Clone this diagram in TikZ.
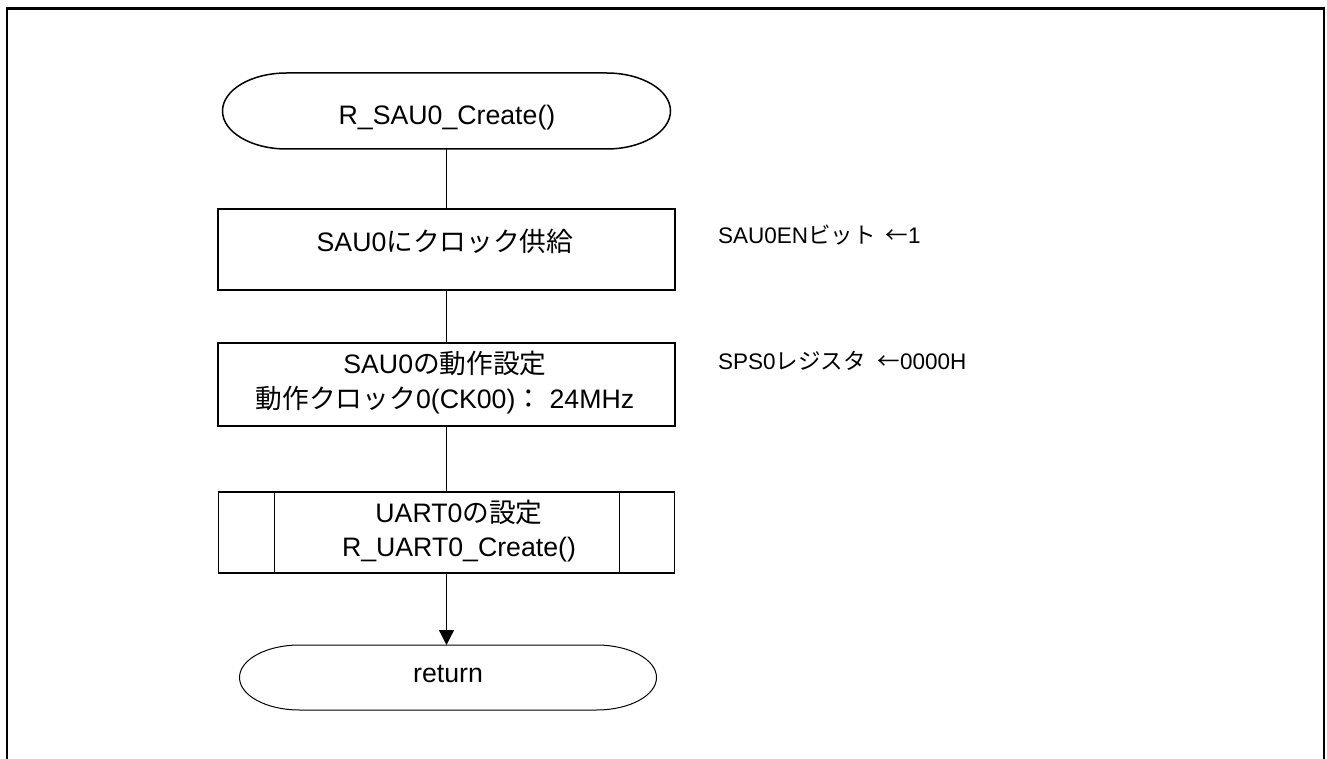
\documentclass[tikz,border=0pt]{standalone}
\usepackage{fontspec}
\setmainfont{Liberation Sans}
\newfontfamily\cjk{Noto Sans CJK JP}
\usetikzlibrary{arrows.meta}
\tikzset{
  shapebox/.style={draw=none, inner sep=0pt, outer sep=0pt},
  procbox/.style={draw, line width=1.4pt, inner sep=0pt, outer sep=0pt},
  txt/.style={inner sep=0pt, outer sep=0pt, anchor=base, font=\fontsize{26.7}{35}\selectfont},
  note/.style={inner sep=0pt, outer sep=0pt, anchor=base west, font=\fontsize{22.5}{27}\selectfont},
  flow/.style={line width=1.3pt},
}
\begin{document}
\begin{tikzpicture}[x=1pt,y=1pt]
\useasboundingbox (0,0) rectangle (1327,758);
\clip (0,0) rectangle (1327,758);
% outer frame (bottom edge lies below the picture)
\draw[line width=2.2pt] (7,-30) rectangle (1324,749.5);

% start terminal
\node[shapebox, minimum width=448pt, minimum height=76pt] (start) at (446.5,647) {};
\draw[line width=1.5pt] ([xshift=64pt]start.north west) -- ([xshift=-64pt]start.north east)
  arc[start angle=90, end angle=-90, x radius=64pt, y radius=38pt]
  -- ([xshift=64pt]start.south west)
  arc[start angle=270, end angle=90, x radius=64pt, y radius=38pt] -- cycle;
\node[txt] (starttext) at (447,633) {R\_SAU0\_Create()};

% process 1
\node[procbox, minimum width=457pt, minimum height=81pt] (box1) at (446.5,508.5) {};
\node[txt] (box1text) at (445,506) {SAU0{\cjk にクロック供給}};

% process 2
\node[procbox, minimum width=457pt, minimum height=83pt] (box2) at (446.5,373.5) {};
\node[txt] (box2a) at (445,384) {SAU0{\cjk の動作設定}};
\node[txt] (box2b) at (445,349) {{\cjk 動作クロック}0(CK00){\cjk ：} 24MHz};

% predefined process
\node[procbox, line width=1.7pt, minimum width=456pt, minimum height=81pt] (sub) at (446.5,225.5) {};
\draw[line width=1.7pt] ([xshift=56pt]sub.north west) -- ([xshift=56pt]sub.south west);
\draw[line width=1.7pt] ([xshift=-55pt]sub.north east) -- ([xshift=-55pt]sub.south east);
\node[txt] (suba) at (459,236) {UART0{\cjk の設定}};
\node[txt] (subb) at (459,202) {R\_UART0\_Create()};

% return terminal
\node[shapebox, minimum width=417pt, minimum height=65pt] (ret) at (448,80.5) {};
\draw[line width=1pt] ([xshift=60pt]ret.north west) -- ([xshift=-60pt]ret.north east)
  arc[start angle=90, end angle=-90, x radius=60pt, y radius=32.5pt]
  -- ([xshift=60pt]ret.south west)
  arc[start angle=270, end angle=90, x radius=60pt, y radius=32.5pt] -- cycle;
\node[txt] (rettext) at (448,76) {return};

% connectors
\draw[flow] (start.south) -- (box1.north);
\draw[flow] (box1.south) -- (box2.north);
\draw[flow] (box2.south) -- (sub.north);
\draw[flow, -{Triangle[width=15pt,length=15pt]}] (sub.south) -- (sub.south |- ret.north);

% notes
\node[note] (note1) at (718,514) {SAU0EN{\cjk ビット}\hspace{10pt}{\cjk ←}1};
\node[note] (note2) at (718,388) {SPS0{\cjk レジスタ}\hspace{12pt}{\cjk ←}0000H};
\end{tikzpicture}
\end{document}
